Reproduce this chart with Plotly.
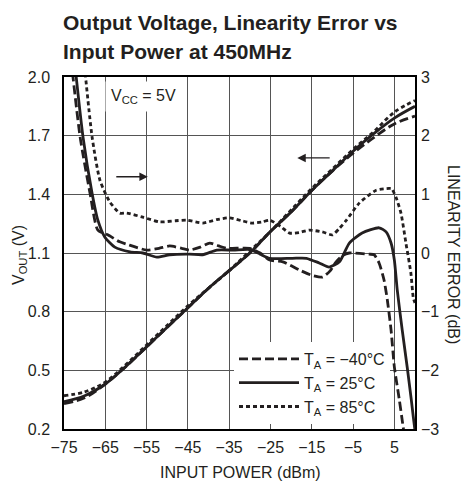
import plotly.graph_objects as go

# ---- data ----
x_vout = [-75, -70, -65, -60, -55, -50, -45, -40, -35, -30, -25, -20, -15, -10, -5, 0, 5, 10]
vout_m40 = [0.33, 0.36, 0.43, 0.52, 0.62, 0.72, 0.82, 0.92, 1.01, 1.10, 1.21, 1.31, 1.42, 1.52, 1.61, 1.69, 1.76, 1.80]
vout_25 = [0.34, 0.37, 0.43, 0.52, 0.62, 0.72, 0.82, 0.92, 1.01, 1.10, 1.21, 1.31, 1.42, 1.52, 1.62, 1.71, 1.79, 1.85]
vout_85 = [0.37, 0.39, 0.44, 0.53, 0.63, 0.73, 0.83, 0.92, 1.01, 1.11, 1.21, 1.32, 1.43, 1.53, 1.63, 1.72, 1.82, 1.88]

x_err_m40 = [-73.3, -71.1, -68.7, -66.8, -64.4, -61.5, -59.8, -55, -52, -49.4, -46.5, -44.6, -42, -39.7, -37.5,
             -35.6, -30, -27.5, -25.2, -22, -18, -15, -12.4, -10.5, -9.1, -7.5, -5.9, -1.1, 0.1, 1.3, 2.5, 3.3,
             4.2, 5, 6.2, 7, 7.3]
err_m40 = [3.3, 1.98, 1.02, 0.39, 0.31, 0.19, 0.15, 0.05, 0.08, 0.12, 0.08, 0.05, 0.1, 0.17, 0.12,
           0.08, 0.08, 0.0, -0.12, -0.15, -0.29, -0.38, -0.41, -0.3, -0.15, -0.04, 0.0, -0.02, -0.03, -0.17, -0.46, -0.8,
           -1.31, -1.94, -2.5, -2.9, -3.05]

x_err_25 = [-72.5, -70.4, -68.2, -66.8, -65.1, -62.7, -59, -55.9, -52.5, -49.4, -44.6, -41.4, -38, -34, -30,
            -27.5, -25.2, -19.7, -16.3, -13.2, -10.8, -8.3, -5.9, -2.8, 1.3, 3.0, 4.2, 5, 5.7, 6.9, 8.1, 9.1,
            9.6, 9.95]
err_25 = [3.3, 1.98, 1.02, 0.56, 0.27, 0.10, 0.02, 0.0, -0.07, -0.03, -0.02, -0.03, 0.05, 0.05, 0.06,
          -0.02, -0.09, -0.09, -0.09, -0.17, -0.24, -0.15, 0.17, 0.34, 0.43, 0.36, 0.17, -0.12, -0.63, -1.31, -1.94, -2.5,
          -2.8, -3.0]

x_err_85 = [-70.2, -68.2, -66.3, -63.9, -61.5, -59.8, -55.9, -51.8, -48, -45.3, -41.4, -38, -34.9, -32, -29.4,
            -27, -25.2, -22.5, -20.4, -18, -15.6, -12.5, -10, -8.3, -6.6, -3.5, 0.6, 3.7, 4.3, 5.4, 6.6, 7.8,
            9.0, 9.6, 10]
err_85 = [3.3, 1.98, 1.24, 0.87, 0.68, 0.68, 0.61, 0.53, 0.55, 0.56, 0.51, 0.57, 0.6, 0.55, 0.51,
          0.53, 0.56, 0.45, 0.34, 0.35, 0.39, 0.36, 0.31, 0.42, 0.56, 0.85, 1.07, 1.1, 1.1, 0.95, 0.68, 0.17,
          -0.34, -0.77, -0.85]

x_ticks = [-75, -65, -55, -45, -35, -25, -15, -5, 5]
y_ticks = [0.2, 0.5, 0.8, 1.1, 1.4, 1.7, 2.0]
y2_ticks = [-3, -2, -1, 0, 1, 2, 3]
legend_names = ["T<sub>A</sub> = \u221240\u00b0C", "T<sub>A</sub> = 25\u00b0C", "T<sub>A</sub> = 85\u00b0C"]
title_lines = ["Output Voltage, Linearity Error vs", "Input Power at 450MHz"]


def fmt(v):
    return "\u2212%g" % -v if v < 0 else "%g" % v


FONT = "Liberation Sans, Arial, sans-serif"
INK = "#231f20"
DASH = "9px,4px"
DOT = "4px,3px"
LW = 2.8
FS = 16

fig = go.Figure()
styles = [DASH, "solid", DOT]
vouts = [vout_m40, vout_25, vout_85]
errs = [(x_err_m40, err_m40), (x_err_25, err_25), (x_err_85, err_85)]
for i in range(3):
    fig.add_trace(go.Scatter(x=x_vout, y=vouts[i], mode="lines", name=legend_names[i],
                             line=dict(color=INK, width=LW, dash=styles[i], shape="spline"),
                             legendgroup=str(i), showlegend=True))
for i in range(3):
    fig.add_trace(go.Scatter(x=errs[i][0], y=errs[i][1], mode="lines", yaxis="y2",
                             line=dict(color=INK, width=LW, dash=styles[i], shape="spline", smoothing=0.6),
                             legendgroup=str(i), showlegend=False))

fig.update_layout(
    width=463, height=487,
    margin=dict(l=64, r=48, t=77, b=58),
    paper_bgcolor="white", plot_bgcolor="white",
    font=dict(family=FONT, size=FS, color=INK),
    xaxis=dict(range=[-75, 10], tickvals=x_ticks, ticktext=[fmt(v) for v in x_ticks],
               showgrid=True, gridcolor="#555", gridwidth=1, zeroline=False, automargin=False,
               showline=True, linecolor="black", linewidth=1.5, mirror=True, ticks="",
               ticklabelstandoff=3),
    yaxis=dict(range=[0.2, 2.0], tickvals=y_ticks, ticktext=["%.1f" % v for v in y_ticks],
               showgrid=True, gridcolor="#555", gridwidth=1, zeroline=False, automargin=False,
               showline=True, linecolor="black", linewidth=1.5, mirror=True, ticks="",
               ticklabelstandoff=9),
    yaxis2=dict(range=[-3, 3], tickvals=y2_ticks, ticktext=[fmt(v) for v in y2_ticks],
                overlaying="y", side="right", showgrid=False, zeroline=False, ticks="",
                automargin=False, ticklabelstandoff=5),
    legend=dict(x=(234 - 64) / 351, y=(429 - 424) / 352, xanchor="left", yanchor="bottom",
                bgcolor="white", borderwidth=0, font=dict(size=FS), itemwidth=60,
                tracegroupgap=0, traceorder="normal"),
    showlegend=True,
)

# title (two lines)
for txt, py in zip(title_lines, [22, 52]):
    fig.add_annotation(text="<b>%s</b>" % txt, xref="paper", yref="paper",
                       x=(61 - 64) / 351, y=(429 - py) / 352, xanchor="left", yanchor="middle",
                       showarrow=False, font=dict(size=21, family=FONT, color=INK))

# axis titles
fig.add_annotation(text="INPUT POWER (dBm)", xref="paper", yref="paper",
                   x=(240 - 64) / 351, y=(429 - 472) / 352,
                   xanchor="center", yanchor="middle", showarrow=False)
fig.add_annotation(text="V<sub>OUT</sub> (V)", textangle=-90, xref="paper", yref="paper",
                   x=(20 - 64) / 351, y=(429 - 255) / 352, xanchor="center", yanchor="middle",
                   showarrow=False)
fig.add_annotation(text="LINEARITY ERROR (dB)", textangle=90, xref="paper", yref="paper",
                   x=(454 - 64) / 351, y=(429 - 254) / 352, xanchor="center", yanchor="middle",
                   showarrow=False)

fig.add_annotation(text="V<sub>CC</sub> = 5V", x=-65.0, y=1.90, xanchor="left", yanchor="middle",
                   showarrow=False, bgcolor="white", borderpad=5)
fig.add_annotation(x=-54.7, y=1.49, ax=-62.7, ay=1.49, axref="x", ayref="y", xref="x", yref="y",
                   text="", showarrow=True, arrowhead=2, arrowsize=1.3, arrowwidth=1.3, arrowcolor=INK)
fig.add_annotation(x=-18.5, y=1.586, ax=-10.3, ay=1.586, axref="x", ayref="y", xref="x", yref="y",
                   text="", showarrow=True, arrowhead=2, arrowsize=1.3, arrowwidth=1.3, arrowcolor=INK)

fig.write_html("out.html", config={"displayModeBar": False},
               post_script="document.body.style.margin='0';document.body.style.overflow='hidden';")
